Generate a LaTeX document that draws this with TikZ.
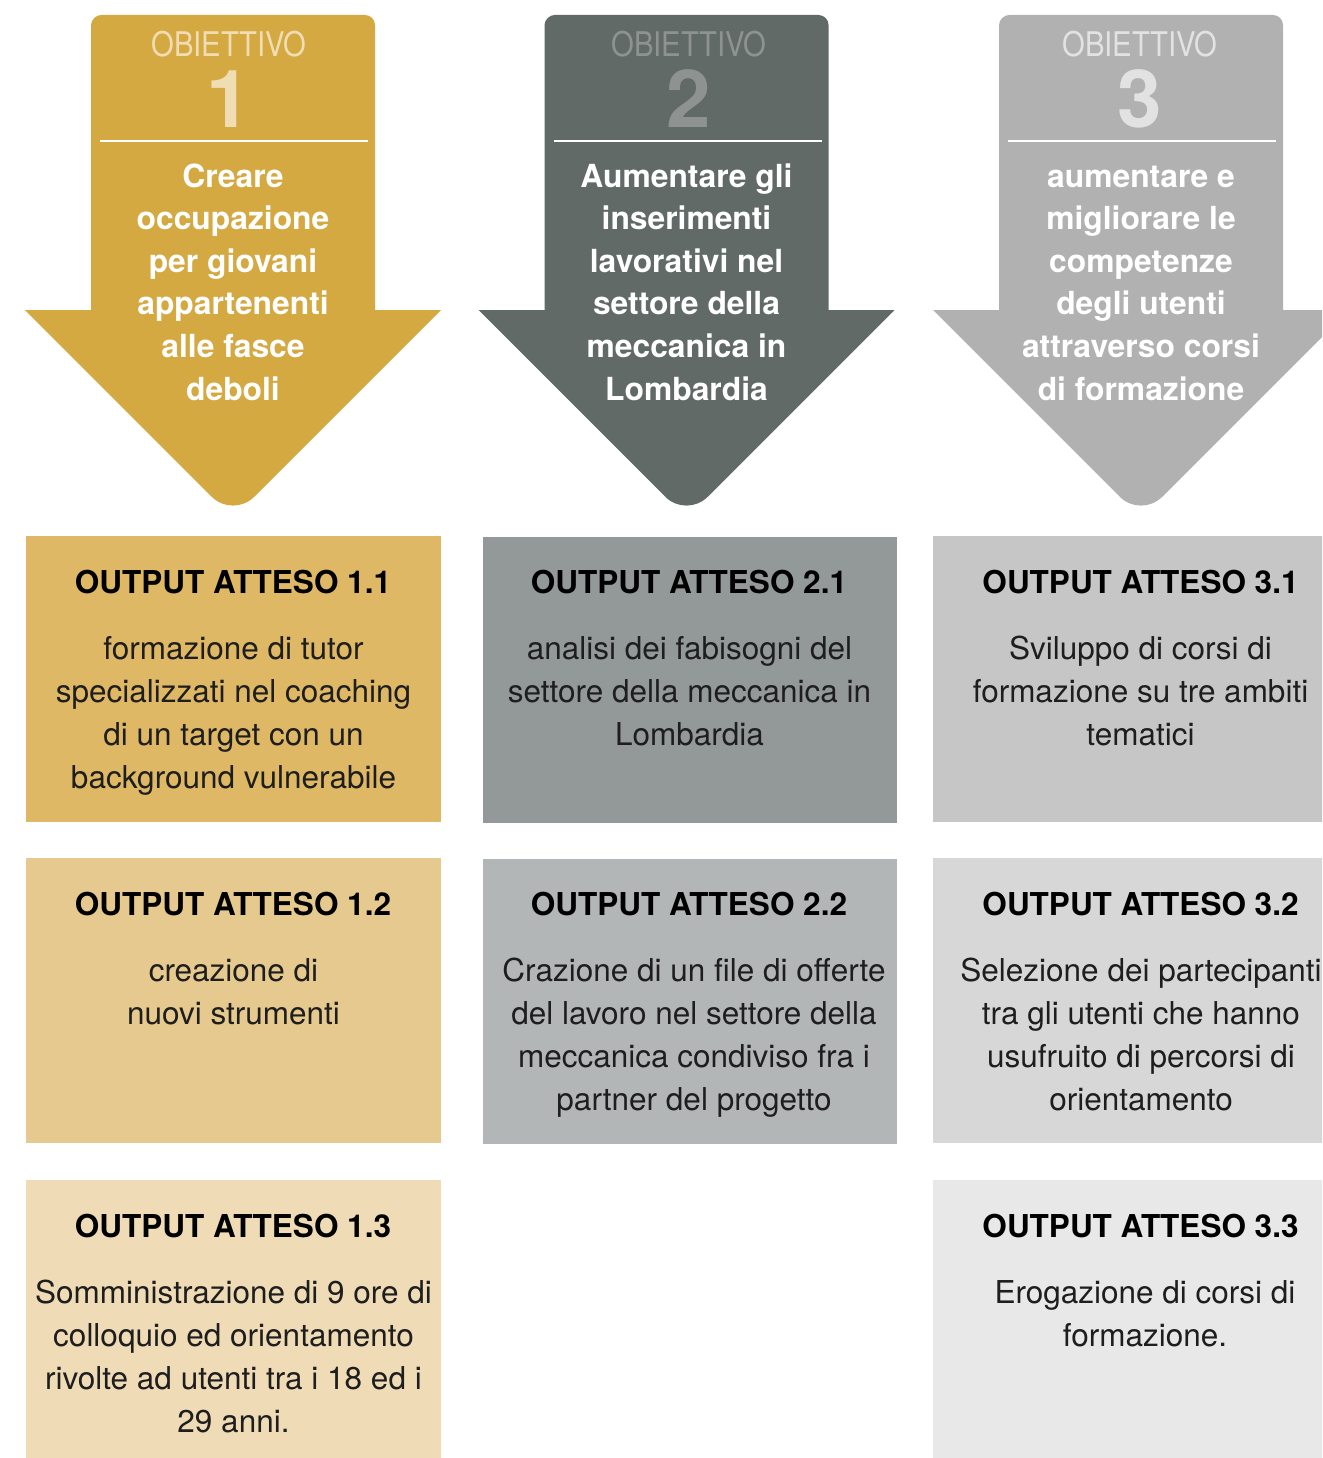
\documentclass[tikz,border=0pt]{standalone}
\usepackage{fontspec}
\setmainfont{TeX Gyre Heros}
\definecolor{aone}{HTML}{D5A942}
\definecolor{atwo}{HTML}{616A67}
\definecolor{athree}{HTML}{B1B1B1}
\definecolor{nuone}{HTML}{F0DDB3}
\definecolor{nutwo}{HTML}{8E9290}
\definecolor{nuthree}{HTML}{E2E2E2}
\definecolor{boneone}{HTML}{DEB865}
\definecolor{bonetwo}{HTML}{E6C98E}
\definecolor{bonethree}{HTML}{EFDBB5}
\definecolor{btwoone}{HTML}{939998}
\definecolor{btwotwo}{HTML}{B3B6B6}
\definecolor{bthreeone}{HTML}{C6C6C6}
\definecolor{bthreetwo}{HTML}{D7D7D7}
\definecolor{bthreethree}{HTML}{E8E8E8}
\definecolor{bodyink}{HTML}{1E1E1E}
\newcommand{\mlines}[1]{\begin{tabular}[t]{@{}c@{}}#1\end{tabular}}
\newcommand{\objarrow}[2]{%
  \fill[#2] ({#1-142},310) -- ({#1-142},25)
    .. controls ({#1-142},19.5) and ({#1-136.5},15) .. ({#1-132},15)
    -- ({#1+132},15)
    .. controls ({#1+137.5},15) and ({#1+142},19.5) .. ({#1+142},25)
    -- ({#1+142},310) -- ({#1+208},310) -- ({#1+21.2},496.8)
    .. controls ({#1+9.5},508.5) and ({#1-9.5},508.5) .. ({#1-21.2},496.8)
    -- ({#1-208},310) -- cycle;
  \draw[white, line width=2pt] ({#1-133},141) -- ({#1+135},141);}
\tikzset{
  arrowtxt/.style={anchor=base, text=white, inner sep=0pt,
    font=\fontsize{31.8}{42.6}\selectfont\bfseries},
  titletxt/.style={anchor=base, text=black, inner sep=0pt,
    font=\fontsize{31.5}{43}\selectfont\bfseries},
  bodytxt/.style={anchor=base, text=bodyink, inner sep=0pt,
    font=\fontsize{31.5}{43}\selectfont},
  objtxt/.style={anchor=base, inner sep=0pt, font=\fontsize{34}{34}\selectfont},
  numtxt/.style={anchor=base, inner sep=0pt, font=\fontsize{80}{80}\selectfont\bfseries}
}
\begin{document}
\begin{tikzpicture}[x=1pt,y=-1pt]
\clip (0,0) rectangle (1322,1458);
\fill[white] (0,0) rectangle (1322,1458);

% arrows
\objarrow{233}{aone}
\objarrow{686.5}{atwo}
\objarrow{1141}{athree}

\node[objtxt, text=nuone] (o1) at (229,57) {\scalebox{0.86}[1]{OBIETTIVO}};
\node[objtxt, text=nutwo] (o2) at (689,57) {\scalebox{0.86}[1]{OBIETTIVO}};
\node[objtxt, text=nuthree] (o3) at (1140,57) {\scalebox{0.86}[1]{OBIETTIVO}};
\node[numtxt, text=nuone] (n1) at (229,128) {1};
\node[numtxt, text=nutwo] (n2) at (689,128) {2};
\node[numtxt, text=nuthree] (n3) at (1140,128) {3};

\node[arrowtxt] (t1) at (233,187) {\mlines{Creare\\occupazione\\per giovani\\appartenenti\\alle fasce\\deboli}};
\node[arrowtxt] (t2) at (686.5,187) {\mlines{Aumentare gli\\inserimenti\\lavorativi nel\\settore della\\meccanica in\\Lombardia}};
\node[arrowtxt] (t3) at (1141,187) {\mlines{aumentare e\\migliorare le\\competenze\\degli utenti\\attraverso corsi\\di formazione}};

% boxes
\fill[boneone] (26,536) rectangle (441,822);
\fill[bonetwo] (26,858) rectangle (441,1143);
\fill[bonethree] (26,1180) rectangle (441,1470);
\fill[btwoone] (483,537) rectangle (897,823);
\fill[btwotwo] (483,859) rectangle (897,1144);
\fill[bthreeone] (933,536) rectangle (1348,822);
\fill[bthreetwo] (933,858) rectangle (1348,1143);
\fill[bthreethree] (933,1180) rectangle (1348,1470);

% titles
\node[titletxt] (h11) at (233,593) {OUTPUT ATTESO 1.1};
\node[titletxt] (h12) at (233,915) {OUTPUT ATTESO 1.2};
\node[titletxt] (h13) at (233,1237) {OUTPUT ATTESO 1.3};
\node[titletxt] (h21) at (689,593) {OUTPUT ATTESO 2.1};
\node[titletxt] (h22) at (689,915) {OUTPUT ATTESO 2.2};
\node[titletxt] (h31) at (1140.5,593) {OUTPUT ATTESO 3.1};
\node[titletxt] (h32) at (1140.5,915) {OUTPUT ATTESO 3.2};
\node[titletxt] (h33) at (1140.5,1237) {OUTPUT ATTESO 3.3};

% bodies
\node[bodytxt] (d11) at (233.5,659) {\mlines{formazione di tutor\\specializzati nel coaching\\di un target con un\\background vulnerabile}};
\node[bodytxt] (d12) at (233.5,981) {\mlines{creazione di\\nuovi strumenti}};
\node[bodytxt] (d13) at (233.5,1303) {\mlines{Somministrazione di 9 ore di\\colloquio ed orientamento\\rivolte ad utenti tra i 18 ed i\\29 anni.}};
\node[bodytxt] (d21) at (689.5,659) {\mlines{analisi dei fabisogni del\\settore della meccanica in\\Lombardia}};
\node[bodytxt] (d22) at (694,981) {\mlines{Crazione di un file di offerte\\del lavoro nel settore della\\meccanica condiviso fra i\\partner del progetto}};
\node[bodytxt] (d31) at (1140.5,659) {\mlines{Sviluppo di corsi di\\formazione su tre ambiti\\tematici}};
\node[bodytxt] (d32) at (1141,981) {\mlines{Selezione dei partecipanti\\tra gli utenti che hanno\\usufruito di percorsi di\\orientamento}};
\node[bodytxt] (d33) at (1145,1303) {\mlines{Erogazione di corsi di\\formazione.}};
\end{tikzpicture}
\end{document}
